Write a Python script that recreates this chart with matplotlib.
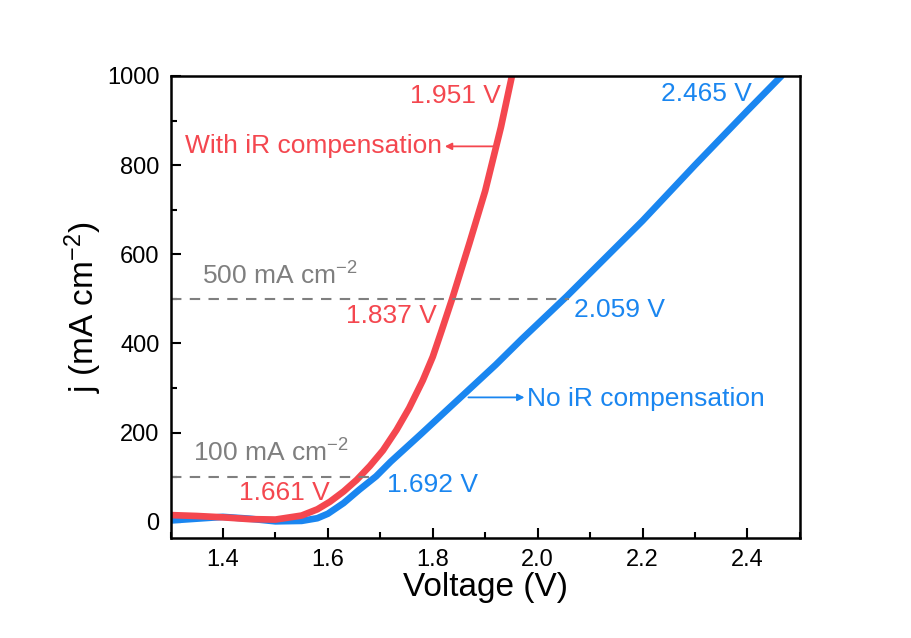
import matplotlib
matplotlib.use('Agg')
import matplotlib.pyplot as plt
from matplotlib.ticker import MultipleLocator

plt.rcParams['font.family'] = ['Liberation Sans', 'DejaVu Sans']
plt.rcParams['mathtext.fontset'] = 'custom'
plt.rcParams['mathtext.rm'] = 'Liberation Sans'
plt.rcParams['mathtext.it'] = 'Liberation Sans'

# with iR compensation (red)
v_ir = [1.30, 1.35, 1.40, 1.45, 1.50, 1.55, 1.58, 1.604, 1.63, 1.655, 1.68, 1.705,
        1.731, 1.755, 1.781, 1.80, 1.817, 1.837, 1.87, 1.90, 1.93, 1.951]
j_ir = [15, 13, 10, 6, 5, 14, 28, 45, 68, 94, 125, 160,
        206, 255, 317, 370, 429, 500, 625, 742, 885, 1000]

# no iR compensation (blue)
v_no = [1.30, 1.35, 1.40, 1.45, 1.50, 1.55, 1.58, 1.60, 1.63, 1.66, 1.692, 1.72,
        1.776, 1.82, 1.865, 1.92, 1.97, 2.055, 2.20, 2.30, 2.40, 2.465]
j_no = [3, 7, 11, 7, 1, 2, 8, 18, 42, 72, 102, 135,
        195, 243, 292, 352, 410, 505, 675, 800, 922, 1000]

red = '#F4474F'
blue = '#1A86F0'
gray = '#7F7F7F'

fig = plt.figure(figsize=(9.12, 6.38), dpi=100)
ax = fig.add_axes([0.187, 0.157, 0.690, 0.724])

ax.plot(v_no, j_no, color=blue, lw=4.8, solid_capstyle='round')
ax.plot(v_ir, j_ir, color=red, lw=4.8, solid_capstyle='round')

# reference current lines
ax.plot([1.3, 2.059], [500, 500], color=gray, lw=1.5, ls=(0, (5, 4)))
ax.plot([1.3, 1.68], [100, 100], color=gray, lw=1.5, ls=(0, (5, 4)))

fs = 19
ax.text(1.36, 532, '500 mA cm$^{-2}$', color=gray, fontsize=fs)
ax.text(1.343, 134, '100 mA cm$^{-2}$', color=gray, fontsize=fs)

ax.text(1.929, 939, '1.951 V', color=red, fontsize=fs, ha='right')
ax.text(1.808, 445, '1.837 V', color=red, fontsize=fs, ha='right')
ax.text(1.604, 49, '1.661 V', color=red, fontsize=fs, ha='right')
ax.text(2.408, 944, '2.465 V', color=blue, fontsize=fs, ha='right')
ax.text(2.07, 460, '2.059 V', color=blue, fontsize=fs)
ax.text(1.712, 67, '1.692 V', color=blue, fontsize=fs)

ax.text(1.328, 827, 'With iR compensation', color=red, fontsize=fs)
ax.annotate('', xy=(1.823, 842), xytext=(1.915, 842),
            arrowprops=dict(arrowstyle='-|>', color=red, lw=1.3, mutation_scale=10,
                            shrinkA=0, shrinkB=0))
ax.text(1.979, 259, 'No iR compensation', color=blue, fontsize=fs)
ax.annotate('', xy=(1.975, 279), xytext=(1.868, 279),
            arrowprops=dict(arrowstyle='-|>', color=blue, lw=1.3, mutation_scale=10,
                            shrinkA=0, shrinkB=0))

ax.set_xlim(1.3, 2.5)
ax.set_ylim(-36, 1000)
ax.xaxis.set_major_locator(MultipleLocator(0.2))
ax.xaxis.set_minor_locator(MultipleLocator(0.1))
ax.yaxis.set_major_locator(MultipleLocator(200))
ax.yaxis.set_minor_locator(MultipleLocator(100))
ax.tick_params(which='both', direction='in', width=1.5, labelsize=17)
ax.tick_params(which='major', length=7, pad=8)
ax.tick_params(which='minor', length=4)
for s in ax.spines.values():
    s.set_linewidth(1.8)

ax.set_xlabel('Voltage (V)', fontsize=24, labelpad=1)
ax.set_ylabel('j (mA cm$^{-2}$)', fontsize=24, labelpad=2)

fig.savefig('out.png', dpi=100)
